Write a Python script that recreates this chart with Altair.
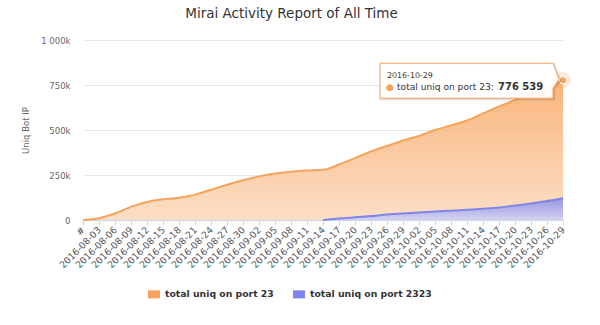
import altair as alt
import pandas as pd

labels = ["#", "2016-08-03", "2016-08-06", "2016-08-09", "2016-08-12", "2016-08-15",
          "2016-08-18", "2016-08-21", "2016-08-24", "2016-08-27", "2016-08-30",
          "2016-09-02", "2016-09-05", "2016-09-08", "2016-09-11", "2016-09-14",
          "2016-09-17", "2016-09-20", "2016-09-23", "2016-09-26", "2016-09-29",
          "2016-10-02", "2016-10-05", "2016-10-08", "2016-10-11", "2016-10-14",
          "2016-10-17", "2016-10-20", "2016-10-23", "2016-10-26", "2016-10-29"]

port23 = [0, 10000, 36000, 73000, 100000, 115000, 123000, 141000, 168000, 196000,
          221000, 242000, 258000, 268000, 275000, 279000, 308000, 344000, 381000,
          411000, 442000, 467000, 500000, 525000, 553000, 592000, 631000, 667000,
          703000, 736000, 776539]

port2323 = [None] * 15 + [0, 8000, 15000, 22000, 30000, 36000, 41000, 47000,
                          52000, 57000, 62000, 70000, 80000, 92000, 105000, 121000]

s23 = "total uniq on port 23"
s2323 = "total uniq on port 2323"
y_ticks = [0, 250000, 500000, 750000, 1000000]

rows = []
for i, lab in enumerate(labels):
    rows.append({"label": lab, "series": s23, "value": port23[i]})
    if port2323[i] is not None:
        rows.append({"label": lab, "series": s2323, "value": port2323[i]})
df = pd.DataFrame(rows)

tip = pd.DataFrame([{
    "label": labels[-1],
    "value": port23[-1],
    "date": labels[-1],
    "text": s23 + ": ",
    "num": f"{port23[-1]:,}".replace(",", " "),
}])

FONT = "DejaVu Sans"

x_enc = alt.X(
    "label:O",
    scale=alt.Scale(type="point", domain=labels, padding=0),
    axis=alt.Axis(title=None, labelAngle=-45, labelAlign="right", labelBaseline="middle",
                  labelFontSize=9.3, labelColor="#555", labelFont=FONT, tickSize=5,
                  tickColor="#ccd6eb", domainColor="#ccd6eb", labelPadding=3,
                  labelOverlap=False, grid=False),
)
y_enc = alt.Y(
    "value:Q", stack=None,
    scale=alt.Scale(domain=[0, 1000000], nice=False),
    axis=alt.Axis(values=y_ticks, title="Uniq Bot IP", grid=True, gridColor="#e6e6e6",
                  domain=False, ticks=False, labelPadding=13, labelFontSize=8.5,
                  labelColor="#666", labelFont=FONT, titleFont=FONT, titleFontSize=8.5,
                  titleColor="#666", titleFontWeight="normal", titlePadding=10,
                  labelExpr="datum.value == 0 ? '0' : (datum.value == 1000000 ? '1 000k' : format(datum.value / 1000, 'd') + 'k')"),
)
color_enc = alt.Color(
    "series:N",
    scale=alt.Scale(domain=[s23, s2323], range=["#f7a35c", "#8085e9"]),
    legend=alt.Legend(title=None, orient="none", direction="horizontal", legendX=65,
                      legendY=248, symbolType="M-1,-0.67H1V0.67H-1Z", symbolSize=144,
                      symbolStrokeWidth=0, labelFont=FONT, labelFontSize=9.3,
                      labelFontWeight="bold", labelColor="#333", labelOffset=5,
                      columnPadding=19, labelLimit=300),
)

white_grad = alt.Gradient(
    gradient="linear",
    stops=[alt.GradientStop(color="rgba(255,255,255,0)", offset=0),
           alt.GradientStop(color="rgba(255,255,255,0.56)", offset=1)],
    x1=0, x2=0, y1=0, y2=1,
)


def area(name):
    return alt.Chart(df).transform_filter(alt.datum.series == name).mark_area(
        interpolate="monotone", fillOpacity=0.8).encode(x=x_enc, y=y_enc, color=color_enc)


def overlay(name):
    return alt.Chart(df).transform_filter(alt.datum.series == name).mark_area(
        interpolate="monotone", fill=white_grad).encode(x=x_enc, y=y_enc)


def line(name, col):
    return alt.Chart(df).transform_filter(alt.datum.series == name).mark_line(
        interpolate="monotone", strokeWidth=2, color=col).encode(x=x_enc, y=y_enc)


halo = alt.Chart(tip).mark_point(shape="circle", size=254, filled=True, color="#f7a35c",
                                 opacity=0.25).encode(x=x_enc, y=y_enc)
dot = alt.Chart(tip).mark_point(shape="circle", size=55, filled=True, fill="#f7a35c",
                                stroke="white", strokeWidth=1, opacity=1).encode(x=x_enc, y=y_enc)

box_path = "M-183,-17L-10,-17L-4,-1L-10,8L-10,18L-183,18Z"
shadow_path = "M-182,-16L-9,-16L-3,0L-9,9L-9,19L-182,19Z"
shadow = alt.Chart(tip).mark_point(shape=shadow_path, size=4, filled=False,
                                   stroke="black", strokeOpacity=0.12, strokeWidth=2.5,
                                   opacity=1).encode(x=x_enc, y=y_enc)
box = alt.Chart(tip).mark_point(shape=box_path, size=4, filled=True, fill="white",
                                fillOpacity=0.92, stroke="#f7a35c", strokeWidth=1,
                                opacity=1).encode(x=x_enc, y=y_enc)
t_date = alt.Chart(tip).mark_text(align="left", baseline="alphabetic", dx=-176, dy=-2,
                                  font=FONT, fontSize=7.9, color="#333").encode(
    x=x_enc, y=y_enc, text="date:N")
t_bullet = alt.Chart(tip).mark_text(align="center", baseline="middle", dx=-173, dy=7,
                                    font=FONT, fontSize=9, color="#f7a35c").encode(
    x=x_enc, y=y_enc, text=alt.value("●"))
t_lab = alt.Chart(tip).mark_text(align="left", baseline="alphabetic", dx=-166, dy=10,
                                 font=FONT, fontSize=9.1, color="#333").encode(
    x=x_enc, y=y_enc, text="text:N")
t_num = alt.Chart(tip).mark_text(align="left", baseline="alphabetic", dx=-65, dy=10,
                                 font=FONT, fontSize=10, fontWeight="bold", color="#333").encode(
    x=x_enc, y=y_enc, text="num:N")

chart = alt.layer(
    area(s23), overlay(s23), area(s2323), overlay(s2323),
    line(s23, "#f7a35c"), line(s2323, "#8085e9"),
    halo, dot, shadow, box, t_date, t_bullet, t_lab, t_num,
).properties(
    width=480, height=180,
    padding={"left": 83, "top": 40, "right": 37, "bottom": 105},
    autosize="none",
    background="white",
    title=alt.TitleParams("Mirai Activity Report of All Time", font=FONT, fontSize=13.5,
                          fontWeight="normal", color="#333", anchor="middle", frame="group",
                          dx=-31.5, offset=16),
).configure_view(stroke=None)

chart.save("out.html", embed_options={"renderer": "svg", "actions": False})
